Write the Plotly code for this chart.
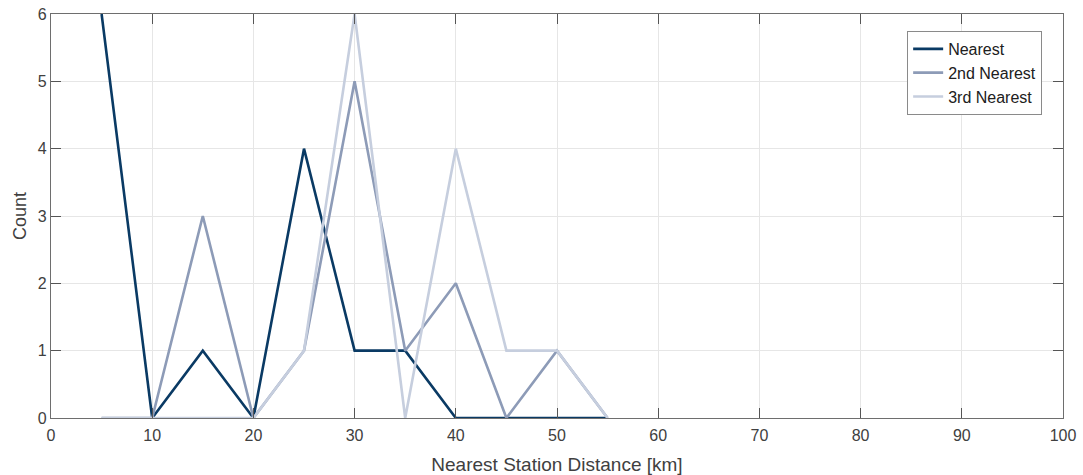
import plotly.graph_objects as go

distance_km = [5, 10, 15, 20, 25, 30, 35, 40, 45, 50, 55]
nearest = [6, 0, 1, 0, 4, 1, 1, 0, 0, 0, 0]
second_nearest = [0, 0, 3, 0, 1, 5, 1, 2, 0, 1, 0]
third_nearest = [0, 0, 0, 0, 1, 6, 0, 4, 1, 1, 0]

series = [
    ("Nearest", nearest, "#0a3a64"),
    ("2nd Nearest", second_nearest, "#8d9bb7"),
    ("3rd Nearest", third_nearest, "#c6cede"),
]

x_ticks = list(range(0, 101, 10))
y_ticks = list(range(0, 7))

fig = go.Figure()
for name, vals, color in series:
    fig.add_trace(go.Scatter(
        x=distance_km, y=vals, mode="lines", name=name,
        line=dict(color=color, width=2.6),
    ))

axis_common = dict(
    showline=True, linecolor="#6e6e6e", linewidth=1.2, mirror="allticks",
    ticks="inside", ticklen=10, tickwidth=1, tickcolor="#555555",
    showgrid=True, gridcolor="#e6e6e6", gridwidth=1, zeroline=False,
    automargin=False,
    tickfont=dict(family="Liberation Sans, Arial", size=16, color="#404040"),
)

fig.update_layout(
    width=1083, height=475,
    margin=dict(l=51, r=20, t=14, b=57),
    paper_bgcolor="white", plot_bgcolor="white",
    font=dict(family="Liberation Sans, Arial", color="#404040"),
    xaxis=dict(range=[0, 100], tickvals=x_ticks, ticklabelstandoff=3,
               title=dict(text="Nearest Station Distance [km]", font=dict(size=19, color="#404040"), standoff=16),
               **axis_common),
    yaxis=dict(range=[0, 6], tickvals=y_ticks,
               title=dict(text="Count", font=dict(size=18, color="#404040"), standoff=6),
               **axis_common),
    legend=dict(x=0.846, y=0.958, xanchor="left", yanchor="top",
                bgcolor="white", bordercolor="#8a8a8a", borderwidth=1,
                font=dict(size=16, color="#202020"), tracegroupgap=0,
                itemwidth=30),
    showlegend=True,
)

fig.write_html("out.html")
